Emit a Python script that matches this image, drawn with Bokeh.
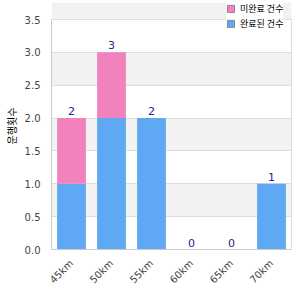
import math
from bokeh.plotting import figure
from bokeh.models import (ColumnDataSource, Legend, LegendItem, Range1d,
                          NumeralTickFormatter, LinearAxis, FixedTicker)
from bokeh.embed import file_html
from bokeh.resources import INLINE
from bokeh.core.properties import value

categories = ["45km", "50km", "55km", "60km", "65km", "70km"]
done = [1, 2, 2, 0, 0, 1]
pending = [1, 1, 0, 0, 0, 0]
series_names = ["완료된 건수", "미완료 건수"]
y_label = "운행횟수"
y_ticks = [0.0, 0.5, 1.0, 1.5, 2.0, 2.5, 3.0, 3.5]
y_max = y_ticks[-1]

totals = [a + b for a, b in zip(done, pending)]
BLUE = "#5fa8f3"
PINK = "#f282be"

src = ColumnDataSource(dict(cat=categories, done=done, pending=pending,
                            total=totals, label=[str(t) for t in totals]))

# frame extends above the y_max line to leave room for the legend (no clipping)
top_px, axis_px = 2, 230
p = figure(x_range=categories, width=300, height=300, output_backend="svg",
           toolbar_location=None, min_border_left=51, min_border_right=9,
           min_border_top=top_px, min_border_bottom=51)
p.y_range = Range1d(0, y_max * (axis_px + 19 - top_px) / axis_px)

p.vbar_stack(["done", "pending"], x="cat", width=0.72, color=[BLUE, PINK],
             line_color=None, source=src)

p.text(x="cat", y="total", text="label", source=src, text_align="center",
       text_baseline="bottom", y_offset=-3, text_color="#25258c",
       text_font=value("DejaVu Sans"), text_font_size="11px")

# legend swatches
sw_src = ColumnDataSource(dict(l=[0], r=[0], t=[0], b=[0]))
r_pink = p.quad(left="l", right="r", top="t", bottom="b", source=sw_src,
                fill_color=PINK, line_color="#888888")
r_blue = p.quad(left="l", right="r", top="t", bottom="b", source=sw_src,
                fill_color=BLUE, line_color="#888888")
legend = Legend(items=[LegendItem(label=series_names[1], renderers=[r_pink]),
                       LegendItem(label=series_names[0], renderers=[r_blue])],
                location=(175, 219), glyph_width=9, glyph_height=9, spacing=2,
                label_text_font="Noto Sans CJK KR", label_text_font_size="9px",
                label_text_color="#000000", label_standoff=5, padding=3, margin=0,
                border_line_color=None, background_fill_color="white",
                background_fill_alpha=1.0, label_height=9)
p.add_layout(legend)

p.yaxis.ticker = FixedTicker(ticks=y_ticks)
p.yaxis.formatter = NumeralTickFormatter(format="0.0")
p.yaxis.bounds = (0, y_max)
p.yaxis.axis_label = y_label
p.yaxis.axis_label_text_font = "Noto Sans CJK KR"
p.yaxis.axis_label_text_font_style = "normal"
p.yaxis.axis_label_text_font_size = "10px"
p.yaxis.axis_label_text_color = "#000000"
p.yaxis.axis_label_standoff = 3
p.yaxis.major_label_standoff = 5

for ax in (p.xaxis, p.yaxis):
    ax.axis_line_color = "#cccccc"
    ax.major_tick_line_color = None
    ax.minor_tick_line_color = None
    ax.major_label_text_font = "DejaVu Sans"
    ax.major_label_text_font_size = "10px"
    ax.major_label_text_color = "#444444"

# right frame border
right = LinearAxis(ticker=FixedTicker(ticks=[]), bounds=(0, y_max),
                   axis_line_color="#dddddd", major_tick_out=0, major_tick_in=0,
                   minor_tick_out=0, minor_tick_in=0, major_label_standoff=0)
p.add_layout(right, "right")

p.xaxis.major_label_orientation = math.pi / 4
p.xaxis.major_label_standoff = 6

p.xgrid.grid_line_color = None
p.ygrid.ticker = FixedTicker(ticks=y_ticks)
p.ygrid.grid_line_color = "#dddddd"
p.ygrid.band_fill_color = "#f2f2f2"
p.ygrid.band_fill_alpha = 1.0
p.outline_line_color = None
p.x_range.range_padding = 0.0

open("out.html", "w").write(file_html(p, INLINE))
